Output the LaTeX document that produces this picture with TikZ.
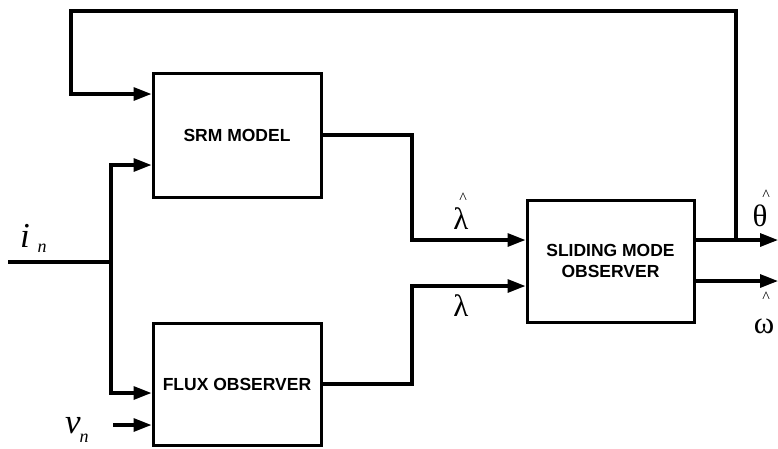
\documentclass[tikz,border=0pt]{standalone}
\usepackage{fontspec}
\setmainfont{Liberation Serif}
\setsansfont{Liberation Sans}
\usetikzlibrary{arrows.meta}
\begin{document}
\begin{tikzpicture}[x=1pt,y=-1pt,
  wire/.style={line width=3.2pt,line join=miter,line cap=butt},
  arr/.style={wire,-{Triangle[length=18pt,width=13pt]}},
  blk/.style={draw,line width=3pt,inner sep=0pt,align=center,
    font=\sffamily\bfseries\fontsize{17.5}{21}\selectfont},
  greek/.style={inner sep=0pt,font=\fontsize{31}{31}\selectfont},
  hatmark/.style={inner sep=0pt,font=\fontsize{16}{16}\selectfont},
  var/.style={inner sep=0pt,font=\itshape\fontsize{35}{35}\selectfont},
  sub/.style={inner sep=0pt,font=\itshape\fontsize{18}{18}\selectfont}]
\useasboundingbox (0,0) rectangle (778,448);

% blocks
\node[blk,minimum width=168pt,minimum height=124pt] (srm) at (237,135) {SRM MODEL};
\node[blk,minimum width=168pt,minimum height=122pt] (flux) at (237,384) {FLUX OBSERVER};
\node[blk,minimum width=167pt,minimum height=122pt] (smo) at (610.5,261) {SLIDING MODE\\OBSERVER};

% connection points
\coordinate (bendx) at (412,0);
\coordinate (smoIn1) at (smo.west |- 0,240);
\coordinate (smoIn2) at (smo.west |- 0,286);
\coordinate (smoOut1) at (smo.east |- 0,240);
\coordinate (smoOut2) at (smo.east |- 0,281);
\coordinate (thetaEnd) at (778,240);
\coordinate (omegaEnd) at (778,281);
\coordinate (fbStart) at (736,240);
\coordinate (fbCorner) at (71,11);
\coordinate (srmIn1) at (srm.west |- 0,94);
\coordinate (srmIn2) at (srm.west |- 0,165);
\coordinate (fluxIn1) at (flux.west |- 0,393);
\coordinate (fluxIn2) at (flux.west |- 0,425);
\coordinate (inStart) at (8,262);
\coordinate (split) at (111,262);
\coordinate (vStart) at (113,425);

% signal paths
\draw[arr] (srm.east) -- (srm.east -| bendx) |- (smoIn1);
\draw[arr] (flux.east) -- (flux.east -| bendx) |- (smoIn2);
\draw[arr] (smoOut1) -- (thetaEnd);
\draw[arr] (smoOut2) -- (omegaEnd);
\draw[arr] (fbStart) |- (fbCorner) |- (srmIn1);
\draw[wire] (inStart) -- (split);
\draw[arr] (split) |- (srmIn2);
\draw[arr] (split) |- (fluxIn1);
\draw[arr] (vStart) -- (fluxIn2);

% signal labels
\node[greek] (lamhat) at (461,219) {λ};
\node[hatmark] (lamhatmark) at (463,198) {\textasciicircum};
\node[greek] (lam) at (461,306) {λ};
\node[greek] (theta) at (760,216) {θ};
\node[hatmark] (thetamark) at (766,195) {\textasciicircum};
\node[hatmark] (omegamark) at (766,297) {\textasciicircum};
\node[greek] (omega) at (764,326) {ω};
\node[var] (ivar) at (25,236) {i};
\node[sub] (isub) at (42,248) {n};
\node[var] (vvar) at (73,426) {v};
\node[sub] (vsub) at (84,438) {n};
\end{tikzpicture}
\end{document}
